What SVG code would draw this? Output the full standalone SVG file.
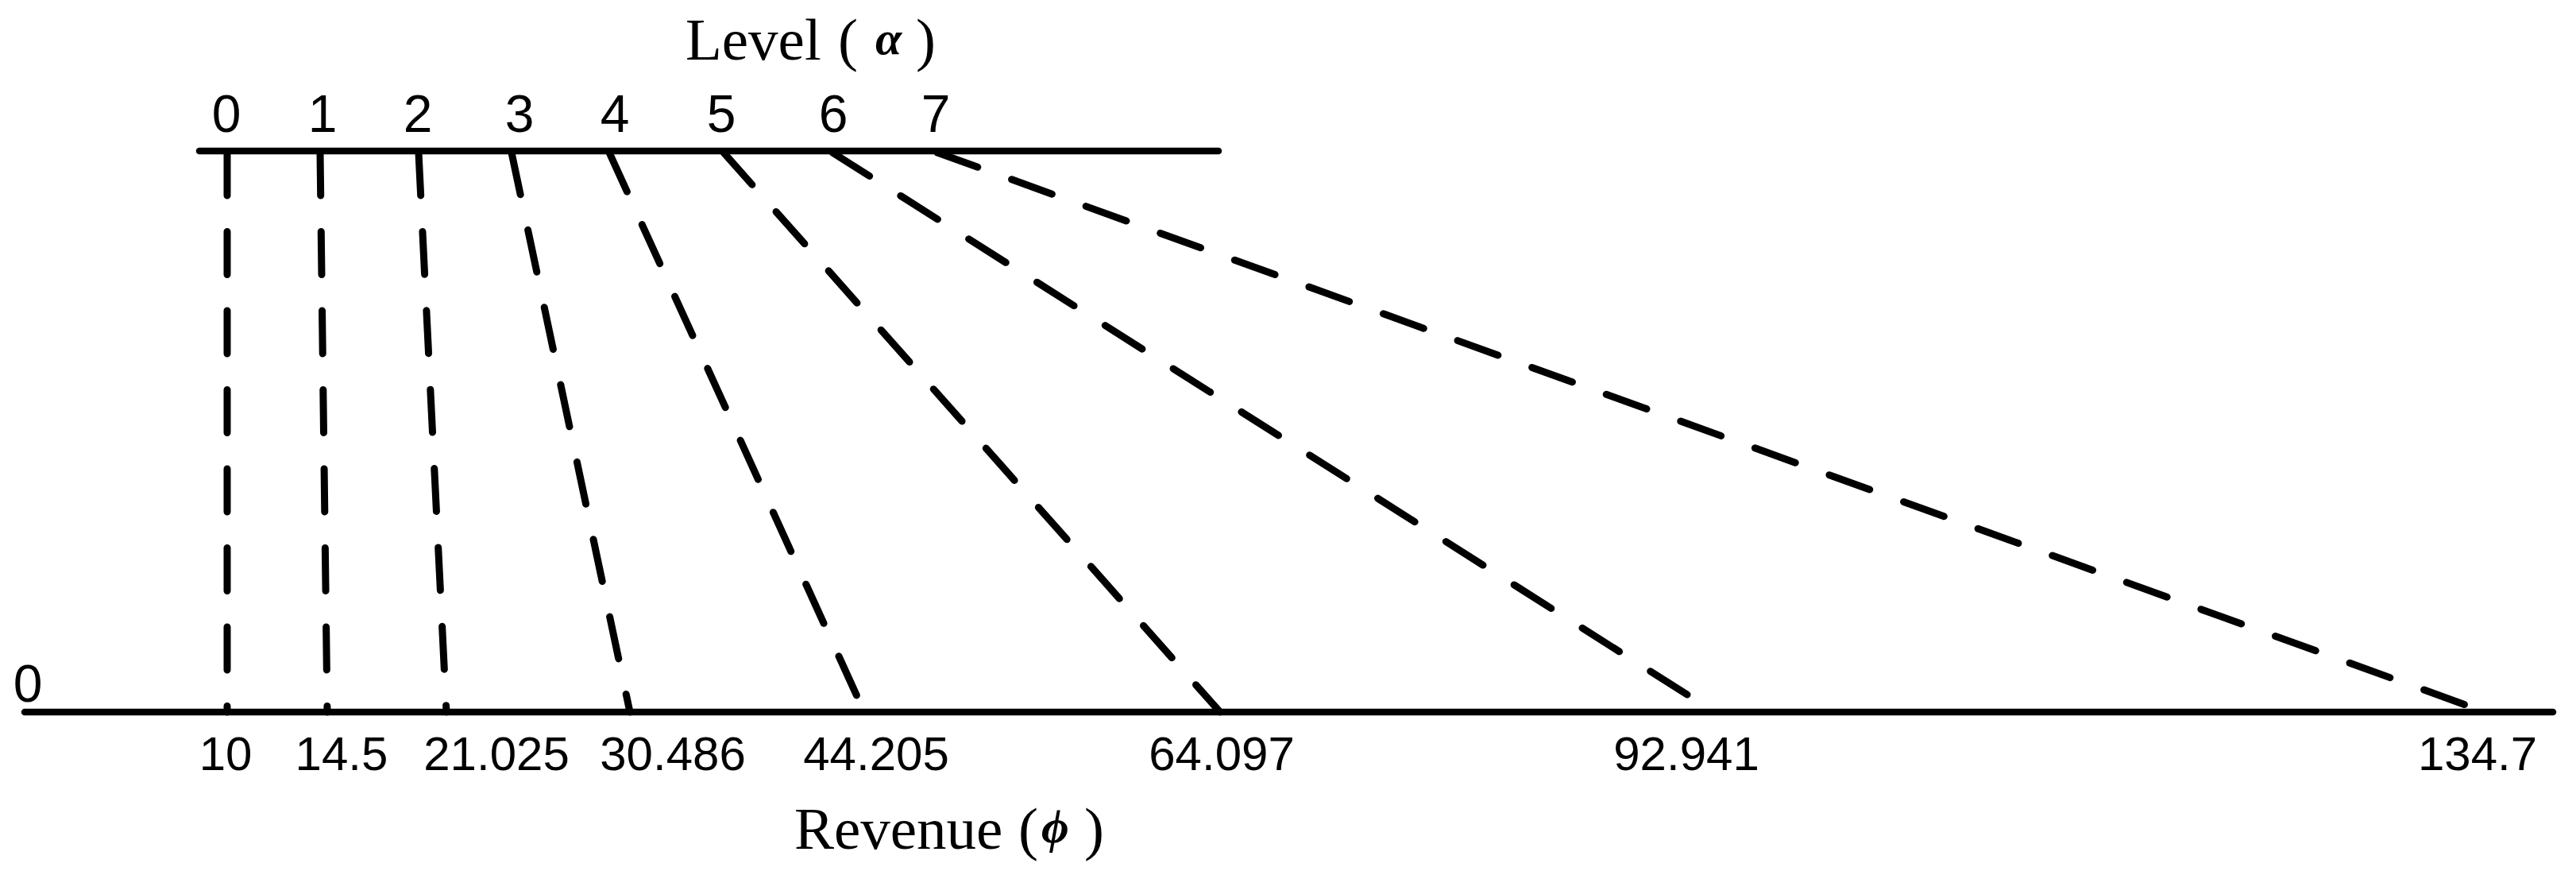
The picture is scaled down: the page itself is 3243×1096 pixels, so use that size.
<svg xmlns="http://www.w3.org/2000/svg" width="3243" height="1096" viewBox="0 0 3243 1096">
<style>
.axis{stroke:#000;stroke-width:8.5;stroke-linecap:round;fill:none}
.dash{stroke:#000;stroke-width:9;stroke-linecap:round;stroke-dasharray:54 45.5;fill:none}
.lvl{font-family:"Liberation Sans",Arial,sans-serif;font-size:66px;fill:#000;text-anchor:middle}
.rev{font-family:"Liberation Sans",Arial,sans-serif;font-size:60px;fill:#000;text-anchor:middle}
.title{font-family:"Liberation Serif","Times New Roman",serif;font-size:75px;fill:#000}
.greek{font-family:"Liberation Serif","Times New Roman",serif;font-style:italic;font-weight:bold;font-size:60px;fill:#000}
</style>
<rect width="3243" height="1096" fill="#fff"/>
<g id="level-axis">
<line class="axis" x1="251" y1="190" x2="1534" y2="190"/>
<text class="title" x="863" y="75">Level<tspan x="1055">(</tspan><tspan class="greek" x="1102" y="68">α</tspan><tspan x="1153" y="75">)</tspan></text>
<text class="lvl" x="285" y="166">0</text>
<text class="lvl" x="406" y="166">1</text>
<text class="lvl" x="526" y="166">2</text>
<text class="lvl" x="654" y="166">3</text>
<text class="lvl" x="774" y="166">4</text>
<text class="lvl" x="908" y="166">5</text>
<text class="lvl" x="1049" y="166">6</text>
<text class="lvl" x="1178" y="166">7</text>
</g>
<g id="revenue-axis">
<line class="axis" x1="31" y1="896" x2="3214" y2="896"/>
<text class="lvl" x="35" y="883">0</text>
<text class="rev" x="284" y="969">10</text>
<text class="rev" x="430" y="969">14.5</text>
<text class="rev" x="625" y="969">21.025</text>
<text class="rev" x="847" y="969">30.486</text>
<text class="rev" x="1103" y="969">44.205</text>
<text class="rev" x="1538" y="969">64.097</text>
<text class="rev" x="2123" y="969">92.941</text>
<text class="rev" x="3119" y="969">134.7</text>
<text class="title" x="1000" y="1068">Revenue<tspan x="1282">(</tspan><tspan class="greek" x="1311" y="1060">ϕ</tspan><tspan x="1365" y="1068">)</tspan></text>
</g>
<g id="connectors">
<line class="dash" x1="286" y1="192" x2="286" y2="896"/>
<line class="dash" x1="403" y1="192" x2="412" y2="896"/>
<line class="dash" x1="527" y1="192" x2="562" y2="896"/>
<line class="dash" x1="644" y1="192" x2="793" y2="896"/>
<line class="dash" x1="767" y1="192" x2="1088" y2="896"/>
<line class="dash" x1="911" y1="192" x2="1536" y2="896"/>
<line class="dash" x1="1048" y1="192" x2="2124" y2="874" style="stroke-dasharray:55.2 46.4"/>
<line class="dash" x1="1180" y1="192" x2="3104" y2="887"/>
</g>
</svg>
